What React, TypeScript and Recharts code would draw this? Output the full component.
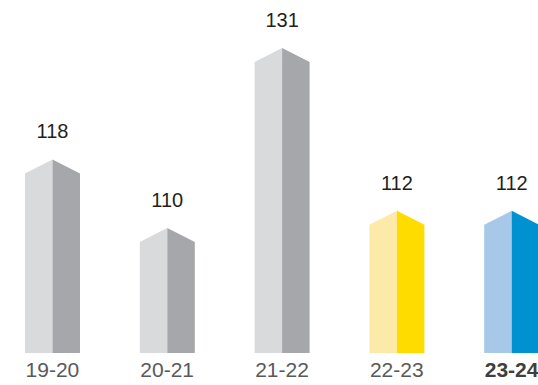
import React from 'react';
import { BarChart, Bar, XAxis, YAxis, LabelList } from 'recharts';

const seasons = ['19-20', '20-21', '21-22', '22-23', '23-24'];
const totals = [118, 110, 131, 112, 112];

// light face / dark face for each bar
const lightFaces = ['#d9dadc', '#d9dadc', '#d9dadc', '#fdeaa8', '#a7c8e8'];
const darkFaces = ['#a6a7aa', '#a6a7aa', '#a6a7aa', '#fedc00', '#0092d0'];

const data = seasons.map((season, i) => ({ season, total: totals[i] }));

const ROOF = 14;

const PrismBar = (props: any) => {
  const { x, y, width, height, index } = props;
  if (height <= 0) return null;
  const mid = x + width / 2;
  const bottom = y + height;
  const left = `${x},${y + ROOF} ${mid},${y} ${mid},${bottom} ${x},${bottom}`;
  const right = `${mid},${y} ${x + width},${y + ROOF} ${x + width},${bottom} ${mid},${bottom}`;
  return (
    <g>
      <polygon points={left} fill={lightFaces[index]} />
      <polygon points={right} fill={darkFaces[index]} />
    </g>
  );
};

const ValueLabel = (props: any) => {
  const { x, y, width, value } = props;
  return (
    <text
      x={x + width / 2}
      y={y - 21}
      textAnchor="middle"
      fontSize={20}
      fill="#231f20"
      fontFamily="'Liberation Sans', Arial, sans-serif"
    >
      {value}
    </text>
  );
};

const SeasonTick = (props: any) => {
  const { x, y, payload, index } = props;
  const last = index === seasons.length - 1;
  return (
    <text
      x={x}
      y={y}
      dy={16}
      textAnchor="middle"
      fontSize={21}
      fontWeight={last ? 'bold' : 'normal'}
      fill={last ? '#3f3f40' : '#58595b'}
      fontFamily="'Liberation Sans', Arial, sans-serif"
    >
      {payload.value}
    </text>
  );
};

export default function App() {
  return (
    <div
      style={{
        position: 'absolute',
        left: 0,
        top: 0,
        width: 538,
        height: 385,
        overflow: 'hidden',
        background: '#ffffff',
      }}
    >
      <div style={{ position: 'absolute', left: -5, top: 0 }}>
        <BarChart
          width={574}
          height={385}
          data={data}
          margin={{ top: 48, right: 0, bottom: 0, left: 0 }}
        >
          <XAxis
            dataKey="season"
            axisLine={false}
            tickLine={false}
            height={32}
            interval={0}
            tick={<SeasonTick />}
          />
          <YAxis hide domain={[95.4, 131]} allowDataOverflow />
          <Bar dataKey="total" barSize={55} shape={<PrismBar />} isAnimationActive={false}>
            <LabelList dataKey="total" content={<ValueLabel />} />
          </Bar>
        </BarChart>
      </div>
    </div>
  );
}
